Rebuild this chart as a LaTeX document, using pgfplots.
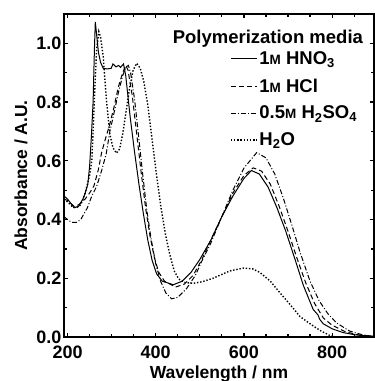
\documentclass[border=0pt]{standalone}
\usepackage{fontspec}
\setmainfont{Liberation Sans}
\usepackage{pgfplots}
\pgfplotsset{compat=1.18}
\newcommand{\sm}{{\fontsize{13.5}{13.5}\selectfont M}}
\begin{document}
\begin{tikzpicture}
\begin{axis}[
  scale only axis,
  width=310pt, height=323pt,
  xmin=192, xmax=895, ymin=0, ymax=1.1,
  xtick={200,400,600,800},
  minor xtick={250,300,350,450,500,550,650,700,750,850},
  ytick={0,0.2,0.4,0.6,0.8,1.0},
  minor ytick={0.1,0.3,0.5,0.7,0.9},
  tick align=inside,
  major tick length=4pt, minor tick length=3pt,
  every tick/.style={line width=1.2pt, black},
  axis line style={line width=1.6pt},
  yticklabel style={/pgf/number format/fixed, /pgf/number format/fixed zerofill, /pgf/number format/precision=1},
  /pgf/number format/assume math mode=true,
  tick label style={font=\fontsize{18}{20}\selectfont\bfseries},
  label style={font=\fontsize{17.5}{20}\selectfont\bfseries},
  xlabel={Wavelength / nm},
  ylabel={Absorbance / A.U.},
  xlabel style={at={(axis description cs:0.5,0)}, anchor=north, yshift=-25pt},
  ylabel style={at={(axis description cs:0,0.5)}, anchor=south, yshift=33pt},
  xticklabel style={yshift=-5pt},
  yticklabel style={xshift=1pt},
  legend style={draw=none, fill=none, at={(axis description cs:0.535,0.89)}, anchor=north west,
    font=\fontsize{18.5}{20}\selectfont\bfseries, row sep=8.5pt, inner sep=0pt,
    /tikz/every even column/.append style={column sep=2pt}},
  legend cell align=left,
  legend image code/.code={\draw[#1] (0pt,0pt) -- (26pt,0pt);},
  clip=true,
]
\addplot[black, line width=1pt] coordinates {
(192,0.48) (200,0.47) (210,0.45) (215,0.44) (225,0.445) (235,0.47) (240,0.49) (246,0.52) (250,0.58) (254,0.68) (258,0.80) (261,0.98) (263,1.073) (266,1.03) (270,0.97) (275,0.935) (281,0.915) (290,0.913) (299,0.915) (303,0.93) (310,0.92) (316,0.925) (320,0.918) (327,0.93) (332,0.89) (342,0.75) (352,0.63) (362,0.52) (372,0.42) (382,0.33) (392,0.26) (402,0.215) (415,0.19) (440,0.178) (460,0.19) (480,0.22) (500,0.264) (525,0.33) (550,0.41) (575,0.48) (600,0.54) (617,0.567) (635,0.555) (655,0.51) (675,0.44) (695,0.36) (716,0.264) (735,0.175) (757,0.094) (768,0.075) (772,0.06) (780,0.045) (800,0.028) (825,0.015) (850,0.008) (875,0.004) (895,0.002)
};
\addlegendentry{1\sm\ HNO\textsubscript{3}}
\addplot[black, line width=1pt, dash pattern=on 5pt off 3pt] coordinates {
(192,0.47) (200,0.465) (215,0.445) (225,0.45) (240,0.47) (250,0.49) (260,0.515) (270,0.57) (277,0.626) (285,0.67) (295,0.72) (305,0.78) (315,0.85) (325,0.90) (332,0.925) (337,0.91) (347,0.82) (357,0.69) (367,0.56) (377,0.44) (387,0.345) (397,0.27) (407,0.22) (420,0.19) (445,0.17) (465,0.18) (485,0.21) (505,0.265) (525,0.33) (550,0.41) (575,0.49) (600,0.55) (621,0.576) (640,0.565) (660,0.52) (680,0.445) (700,0.36) (720,0.27) (740,0.185) (760,0.115) (780,0.065) (800,0.04) (830,0.018) (860,0.007) (895,0.002)
};
\addlegendentry{1\sm\ HCl}
\addplot[black, line width=1pt, dash pattern=on 5pt off 2pt on 1pt off 2pt] coordinates {
(192,0.41) (200,0.40) (210,0.39) (220,0.39) (230,0.40) (245,0.44) (255,0.48) (266,0.513) (278,0.57) (288,0.626) (296,0.70) (305,0.76) (315,0.83) (325,0.89) (333,0.92) (338,0.925) (343,0.90) (352,0.81) (360,0.70) (370,0.56) (380,0.43) (390,0.33) (400,0.25) (411,0.19) (423,0.15) (436,0.13) (450,0.135) (470,0.165) (490,0.21) (505,0.26) (525,0.32) (550,0.41) (575,0.50) (600,0.575) (629,0.628) (650,0.61) (670,0.555) (690,0.47) (710,0.375) (727,0.29) (750,0.19) (770,0.125) (790,0.08) (810,0.048) (840,0.02) (870,0.007) (895,0.002)
};
\addlegendentry{0.5\sm\ H\textsubscript{2}SO\textsubscript{4}}
\addplot[black, line width=1.4pt, dash pattern=on 1.4pt off 1.8pt] coordinates {
(192,0.47) (200,0.46) (210,0.445) (220,0.44) (230,0.45) (240,0.49) (250,0.55) (255,0.60) (258,0.70) (262,0.85) (266,0.98) (271,1.04) (275,1.02) (281,0.955) (288,0.81) (296,0.69) (303,0.645) (311,0.626) (318,0.64) (325,0.69) (333,0.77) (341,0.85) (349,0.91) (357,0.932) (365,0.915) (373,0.87) (382,0.79) (392,0.67) (402,0.55) (412,0.44) (422,0.35) (432,0.28) (442,0.225) (452,0.198) (464,0.186) (485,0.183) (505,0.188) (530,0.20) (568,0.225) (600,0.235) (620,0.232) (636,0.22) (660,0.19) (682,0.15) (705,0.11) (727,0.07) (750,0.045) (773,0.022) (795,0.005) (810,0.0)
};
\addlegendentry{H\textsubscript{2}O}
\node[anchor=south east, font=\fontsize{18.5}{20}\selectfont\bfseries, inner sep=0pt] at (axis description cs:0.965,0.896) {Polymerization media};
\coordinate (bl) at (axis description cs:0,0);
\coordinate (tr) at (axis description cs:1,1);
\end{axis}
\pgfresetboundingbox
\path ([shift={(-64pt,-44pt)}]bl) rectangle ([shift={(0.5pt,14pt)}]tr);
\end{tikzpicture}
\end{document}
